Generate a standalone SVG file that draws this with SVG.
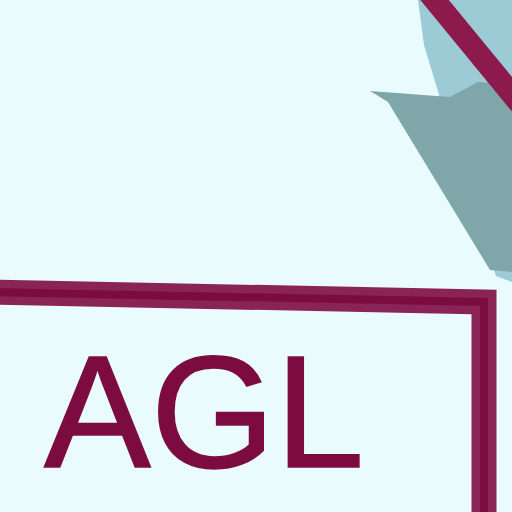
<svg xmlns="http://www.w3.org/2000/svg" width="512" height="512" viewBox="0 0 512 512">
<style>
.frame{fill:none;stroke:#8a2456;stroke-width:25;stroke-linejoin:miter}
.frame2{fill:none;stroke:#7a0c3e;stroke-width:8}
.lbl{font-family:"Liberation Sans",Arial,sans-serif;font-size:160px;fill:#7c0c40;stroke:#7c0c40;stroke-width:1.5}
</style>
<rect width="512" height="512" fill="#e9fbfc"/>
<g id="arrow">
<polygon points="418,0 512,0 512,282 496,276 440,98 424,45" fill="#9dcbd5"/>
<polygon points="370,91 388,102 490,270 512,272 512,84 478,82 450,97" fill="#7fa7aa"/>
<line x1="428" y1="-8" x2="520" y2="104" stroke="#8c1a4c" stroke-width="22"/>
</g>
<g id="box">
<path class="frame" d="M-10,292 L484,302 L484,520"/>
<path class="frame2" d="M-10,292 L484,302 L484,520"/>
<text class="lbl" x="44" y="467">AGL</text>
</g>
</svg>
